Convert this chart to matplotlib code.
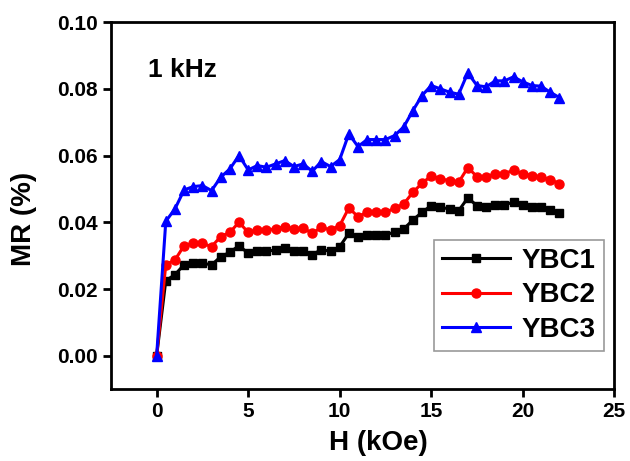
import numpy as np
import matplotlib
matplotlib.use('Agg')
import matplotlib.pyplot as plt

plt.rcParams['font.family'] = ['Liberation Sans', 'DejaVu Sans']
plt.rcParams['font.weight'] = 'bold'

H = np.arange(0, 22.5, 0.5)

ybc1 = [0.0, 0.0225, 0.0243, 0.0273, 0.0278, 0.0278, 0.0272, 0.0297, 0.031, 0.033,
        0.0307, 0.0313, 0.0313, 0.0317, 0.0323, 0.0313, 0.0315, 0.0303, 0.0318, 0.0313,
        0.0327, 0.0367, 0.0355, 0.0363, 0.0363, 0.0363, 0.037, 0.038, 0.0407, 0.043,
        0.045, 0.0445, 0.044, 0.0435, 0.0473, 0.045, 0.0445, 0.0453, 0.0453, 0.046,
        0.0453, 0.0447, 0.0447, 0.0437, 0.0427]
ybc2 = [0.0, 0.0273, 0.0287, 0.033, 0.0337, 0.0337, 0.0327, 0.0357, 0.037, 0.040,
        0.037, 0.0377, 0.0377, 0.038, 0.0387, 0.038, 0.0383, 0.0367, 0.0385, 0.0377,
        0.039, 0.0443, 0.0417, 0.043, 0.043, 0.043, 0.0442, 0.0455, 0.049, 0.0517,
        0.0539, 0.053, 0.0525, 0.052, 0.0564, 0.0537, 0.0535, 0.0546, 0.0546, 0.0556,
        0.0546, 0.054, 0.0535, 0.0528, 0.0516]
ybc3 = [0.0, 0.0403, 0.044, 0.0497, 0.0507, 0.051, 0.0495, 0.0535, 0.056, 0.060,
        0.0557, 0.057, 0.0565, 0.0575, 0.0585, 0.0567, 0.0575, 0.0553, 0.0582, 0.0567,
        0.0588, 0.0665, 0.0627, 0.0648, 0.0648, 0.0648, 0.066, 0.0686, 0.0735, 0.078,
        0.081, 0.080, 0.079, 0.0784, 0.0848, 0.081, 0.0806, 0.0824, 0.0824, 0.0836,
        0.0821, 0.081, 0.0808, 0.079, 0.0774]

fig = plt.figure(figsize=(6.3, 4.61), dpi=100)
ax = fig.add_axes([0.176, 0.156, 0.799, 0.796])

ax.plot(H, ybc1, color='black', marker='s', markersize=6, linewidth=2.2, label='YBC1')
ax.plot(H, ybc2, color='red', marker='o', markersize=6.5, linewidth=2.2, label='YBC2')
ax.plot(H, ybc3, color='blue', marker='^', markersize=7, linewidth=2.2, label='YBC3')

ax.set_xlim(-2.5, 25)
ax.set_ylim(-0.01, 0.10)
ax.set_xticks([0, 5, 10, 15, 20, 25])
ax.set_yticks([0.00, 0.02, 0.04, 0.06, 0.08, 0.10])
ax.set_yticklabels(['0.00', '0.02', '0.04', '0.06', '0.08', '0.10'])
ax.tick_params(axis='both', direction='out', length=6, width=2, labelsize=15)
for lbl in ax.get_xticklabels() + ax.get_yticklabels():
    lbl.set_fontweight('bold')
for s in ax.spines.values():
    s.set_linewidth(2)

ax.set_xlabel('H (kOe)', fontsize=20, fontweight='bold')
ax.set_ylabel('MR (%)', fontsize=20, fontweight='bold')
ax.xaxis.set_label_coords(0.531, -0.112)
ax.yaxis.set_label_coords(-0.147, 0.463)

ax.text(0.074, 0.85, '1 kHz', transform=ax.transAxes, fontsize=19, fontweight='bold')

leg = ax.legend(loc='lower right', bbox_to_anchor=(0.979, 0.1035), borderaxespad=0,
                fontsize=20, frameon=True, fancybox=False, edgecolor='gray',
                handlelength=2.45, borderpad=0.3, labelspacing=0.3, handletextpad=0.4)
leg.get_frame().set_linewidth(1.2)
for t in leg.get_texts():
    t.set_fontweight('bold')

fig.savefig('out.png', dpi=100)
